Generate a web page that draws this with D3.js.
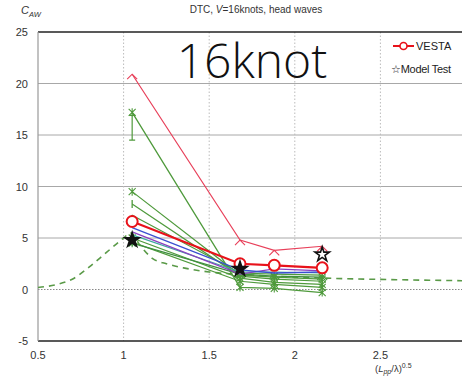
<!DOCTYPE html>
<html>
<head>
<meta charset="utf-8">
<script src="https://cdn.jsdelivr.net/npm/d3@7"></script>
<style>
  body { margin: 0; background: #fff; }
  text { font-family: "Liberation Sans", Arial, sans-serif; }
</style>
</head>
<body>
<div id="chart"></div>
<script>
// wave frequency points (Lpp/lambda)^0.5
const xPoints = [1.05, 1.68, 1.88, 2.16];
const xTicks = [0.5, 1, 1.5, 2, 2.5];
const yTicks = [-5, 0, 5, 10, 15, 20, 25];

// computed series at xPoints
const vesta = [6.6, 2.5, 2.35, 2.1];
const redThin = [20.9, 4.8, 3.8, 4.2];
const blueLine = [6.0, 1.9, 1.6, 1.7];
const purpleLine = [5.6, 1.5, 2.0, 1.8];
const tealLine = [5.3, 1.7, 1.7, 1.6];
const green1 = [17.2, 0.2, 0.1, -0.3];
const green2 = [9.5, 1.4, 1.2, 1.0];
const green3 = [8.3, 1.3, 1.0, 0.8];
const green4 = [7.2, 1.6, 1.5, 1.4];
const green5 = [5.0, 1.1, 0.7, 0.5];
const green6 = [4.6, 0.8, 0.5, 0.2];
const green7 = [4.5, 1.5, 1.3, 1.2];

// model test
const testX = [1.05, 1.68, 2.16];
const testY = [4.8, 2.0, 3.4];

// green dashed curve
const dashX = [0.5, 0.6, 0.7, 0.8, 0.9, 1.0, 1.04, 1.1, 1.17, 1.25, 1.35, 1.5, 1.7, 2.0, 2.3, 2.6, 3.0];
const dashY = [0.2, 0.45, 1.0, 2.2, 3.6, 5.0, 5.5, 4.2, 3.0, 2.5, 2.1, 1.7, 1.45, 1.2, 1.05, 0.95, 0.85];

const svgWidth = 462;
const svgHeight = 380;

const svg = d3.select("#chart")
  .append("svg")
  .attr("width", svgWidth)
  .attr("height", svgHeight);

const x = d3.scaleLinear().domain([0.5, 3.0]).range([38, 466]);
const y = d3.scaleLinear().domain([-5, 25]).range([341, 32]);

// grid
svg.append("g")
  .selectAll("line")
  .data([5, 10, 15, 20])
  .enter()
  .append("line")
  .attr("x1", x(0.5)).attr("x2", svgWidth)
  .attr("y1", d => y(d)).attr("y2", d => y(d))
  .attr("stroke", "#a8a8a8").attr("stroke-width", 1);

svg.append("line")
  .attr("x1", x(0.5)).attr("x2", svgWidth)
  .attr("y1", y(0)).attr("y2", y(0))
  .attr("stroke", "#888").attr("stroke-width", 1.2)
  .attr("stroke-dasharray", "1.5,1.5");

svg.append("g")
  .selectAll("line")
  .data([1, 1.5, 2, 2.5])
  .enter()
  .append("line")
  .attr("x1", d => x(d)).attr("x2", d => x(d))
  .attr("y1", y(25)).attr("y2", y(-5))
  .attr("stroke", "#bbb").attr("stroke-width", 1)
  .attr("stroke-dasharray", "1.5,2");

// frame
svg.append("line")
  .attr("x1", x(0.5)).attr("x2", svgWidth)
  .attr("y1", y(25)).attr("y2", y(25))
  .attr("stroke", "#222").attr("stroke-width", 1.6);
svg.append("line")
  .attr("x1", x(0.5)).attr("x2", svgWidth)
  .attr("y1", y(-5)).attr("y2", y(-5))
  .attr("stroke", "#222").attr("stroke-width", 1.6);
svg.append("line")
  .attr("x1", x(0.5)).attr("x2", x(0.5))
  .attr("y1", y(25)).attr("y2", y(-5))
  .attr("stroke", "#999").attr("stroke-width", 1.2);

// tick labels
svg.append("g")
  .selectAll("text")
  .data(yTicks)
  .enter()
  .append("text")
  .attr("x", 28)
  .attr("y", d => y(d) + 4)
  .attr("text-anchor", "end")
  .attr("font-size", 11)
  .attr("fill", "#333")
  .text(d => d);

svg.append("g")
  .selectAll("text")
  .data(xTicks)
  .enter()
  .append("text")
  .attr("x", d => x(d))
  .attr("y", 359)
  .attr("text-anchor", "middle")
  .attr("font-size", 11)
  .attr("fill", "#333")
  .text(d => d);

const line = d3.line().x(d => x(d[0])).y(d => y(d[1]));
const pairs = vals => xPoints.map((xv, i) => [xv, vals[i]]);

// dashed curve
svg.append("path")
  .attr("d", d3.line().curve(d3.curveMonotoneX).x(d => x(d[0])).y(d => y(d[1]))(dashX.map((xv, i) => [xv, dashY[i]])))
  .attr("fill", "none")
  .attr("stroke", "#5a9a48")
  .attr("stroke-width", 1.6)
  .attr("stroke-dasharray", "6,5");

const greenColor = "#4f9a3c";

function drawSeries(vals, color, width, marker) {
  const g = svg.append("g");
  g.append("path")
    .attr("d", line(pairs(vals)))
    .attr("fill", "none")
    .attr("stroke", color)
    .attr("stroke-width", width);
  const pts = pairs(vals);
  if (marker === "x") {
    g.selectAll("path.m").data(pts).enter().append("path")
      .attr("d", d => `M${x(d[0]) - 3.5},${y(d[1]) - 3.5}L${x(d[0]) + 3.5},${y(d[1]) + 3.5}M${x(d[0]) - 3.5},${y(d[1]) + 3.5}L${x(d[0]) + 3.5},${y(d[1]) - 3.5}M${x(d[0])},${y(d[1]) - 4}L${x(d[0])},${y(d[1]) + 4}`)
      .attr("stroke", color).attr("stroke-width", 1.1).attr("fill", "none");
  } else if (marker === "caret") {
    g.selectAll("path.m").data(pts).enter().append("path")
      .attr("d", d => `M${x(d[0]) - 5},${y(d[1]) + 5}L${x(d[0])},${y(d[1])}L${x(d[0]) + 5},${y(d[1]) + 5}`)
      .attr("stroke", color).attr("stroke-width", 1.1).attr("fill", "none");
  } else if (marker === "bar") {
    g.selectAll("path.m").data(pts).enter().append("path")
      .attr("d", d => `M${x(d[0])},${y(d[1]) - 4}L${x(d[0])},${y(d[1]) + 4}`)
      .attr("stroke", color).attr("stroke-width", 1.3).attr("fill", "none");
  }
}

drawSeries(green6, greenColor, 1.2, "x");
drawSeries(green5, greenColor, 1.2, "x");
drawSeries(green7, "#3f8f3f", 1.2, "x");
drawSeries(green4, greenColor, 1.2, "caret");
drawSeries(green3, greenColor, 1.2, "bar");
drawSeries(green2, greenColor, 1.2, "x");
drawSeries(green1, greenColor, 1.3, "x");
drawSeries(tealLine, "#3fa8a0", 1.2, null);
drawSeries(purpleLine, "#8a3fc0", 1.3, null);
drawSeries(blueLine, "#3a4fd0", 1.3, null);
drawSeries(redThin, "#e8405a", 1.2, "caret");

// error bar on first green point
svg.append("path")
  .attr("d", `M${x(1.05)},${y(16.9)}L${x(1.05)},${y(14.5)}M${x(1.05) - 3},${y(16.9)}L${x(1.05) + 3},${y(16.9)}M${x(1.05) - 3},${y(14.5)}L${x(1.05) + 3},${y(14.5)}`)
  .attr("stroke", greenColor).attr("stroke-width", 1.2).attr("fill", "none");

// VESTA
svg.append("path")
  .attr("d", line(pairs(vesta)))
  .attr("fill", "none")
  .attr("stroke", "#e8121a")
  .attr("stroke-width", 2.2);
svg.append("g")
  .selectAll("circle")
  .data(pairs(vesta))
  .enter()
  .append("circle")
  .attr("cx", d => x(d[0]))
  .attr("cy", d => y(d[1]))
  .attr("r", 5.5)
  .attr("fill", "#fff")
  .attr("stroke", "#e8121a")
  .attr("stroke-width", 2);

// model test stars
const star = d3.symbol().type(d3.symbolStar).size(65);
svg.append("g")
  .selectAll("path")
  .data(testX.map((xv, i) => [xv, testY[i]]))
  .enter()
  .append("path")
  .attr("d", star)
  .attr("transform", d => `translate(${x(d[0])},${y(d[1])})`)
  .attr("fill", (d, i) => i === 2 ? "#fff" : "#111")
  .attr("stroke", "#111")
  .attr("stroke-width", 1.6);

// big label
svg.append("text")
  .attr("x", 252)
  .attr("y", 78)
  .attr("text-anchor", "middle")
  .attr("font-weight", 300)
  .attr("font-size", 48)
  .attr("fill", "#111")
  .style("font-family", "'Open Sans'")
  .text("16knot");

// legend
svg.append("line")
  .attr("x1", 393).attr("x2", 414)
  .attr("y1", 46).attr("y2", 46)
  .attr("stroke", "#e8121a").attr("stroke-width", 2);
svg.append("circle")
  .attr("cx", 403.5).attr("cy", 46).attr("r", 3.5)
  .attr("fill", "#fff").attr("stroke", "#e8121a").attr("stroke-width", 1.6);
svg.append("text")
  .attr("x", 416).attr("y", 50)
  .attr("font-size", 11).attr("fill", "#222")
  .text("VESTA");
svg.append("text")
  .attr("x", 391).attr("y", 73)
  .attr("font-size", 11).attr("fill", "#222")
  .attr("letter-spacing", -0.3)
  .text("☆Model Test");

// title
const title = svg.append("text")
  .attr("x", 256).attr("y", 13)
  .attr("text-anchor", "middle")
  .attr("font-size", 10)
  .attr("fill", "#333");
title.append("tspan").text("DTC, ");
title.append("tspan").attr("font-style", "italic").text("V");
title.append("tspan").text("=16knots, head waves");

const cLabel = svg.append("text")
  .attr("x", 21).attr("y", 14)
  .attr("font-size", 11)
  .attr("font-style", "italic")
  .attr("fill", "#333");
cLabel.append("tspan").text("C");
cLabel.append("tspan").attr("font-size", 7.5).attr("dy", 3).text("AW");

const xLabel = svg.append("text")
  .attr("x", 375).attr("y", 372)
  .attr("font-size", 9.5)
  .attr("fill", "#333");
xLabel.append("tspan").text("(");
xLabel.append("tspan").attr("font-style", "italic").text("L");
xLabel.append("tspan").attr("font-style", "italic").attr("font-size", 7).attr("dy", 2).text("pp");
xLabel.append("tspan").attr("dy", -2).text("/λ)");
xLabel.append("tspan").attr("font-size", 7).attr("dy", -4).text("0.5");
</script>
</body>
</html>
